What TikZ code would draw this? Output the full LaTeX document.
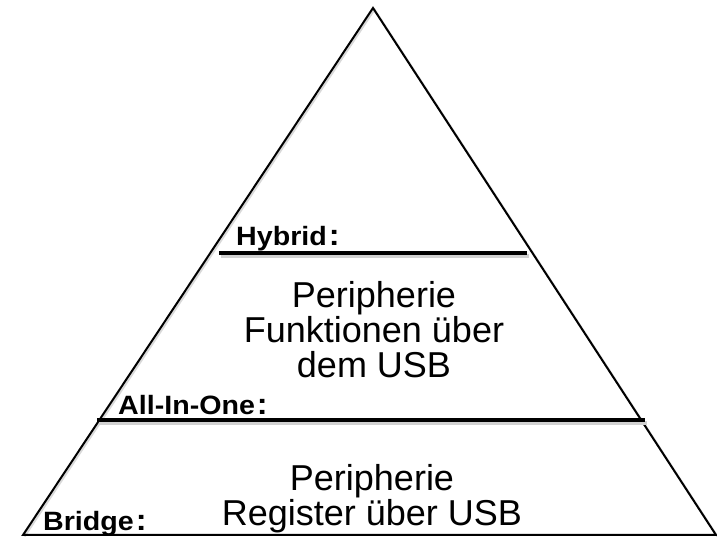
\documentclass[tikz,border=0pt]{standalone}
\usepackage{fontspec}
\setmainfont{Liberation Sans}
\newfontfamily\labelfont[FakeStretch=1.08]{Liberation Sans}
\newcommand{\bigcolon}{\hspace{2pt}{\fontsize{30}{30}\selectfont\bfseries :}}
\tikzset{
  side/.style={line width=2pt, line join=miter},
  tier/.style={line width=3.5pt},
  shadowline/.style={line width=3.5pt, black!18},
  lbl/.style={anchor=base west, inner sep=0pt, font=\labelfont\bfseries\fontsize{26.5}{26.5}\selectfont},
  maintext/.style={anchor=base, inner sep=0pt, align=center, font=\fontsize{36}{35}\selectfont},
}
\begin{document}
\begin{tikzpicture}[x=1pt,y=1pt]
\useasboundingbox (0,0) rectangle (717,537);
\fill[white] (0,0) rectangle (717,537);
% triangle
\coordinate (apex) at (373,529);
\coordinate (bl) at (23,2);
\coordinate (br) at (716,2);
\draw[black!15, line width=2pt] ([shift={(1.5,-1.5)}]bl) -- ([shift={(1.5,-1.5)}]apex) -- ([shift={(1.5,-1.5)}]br);
\draw[side] (bl) -- (apex) -- (br) -- cycle;
% tier lines
\coordinate (h1) at (219,284);
\coordinate (h2) at (527,284);
\coordinate (a1) at (97,117);
\coordinate (a2) at (645,117);
\draw[shadowline] ([shift={(1.5,-3)}]h1) -- ([shift={(1.5,-3)}]h2);
\draw[shadowline] ([shift={(1.5,-3)}]a1) -- ([shift={(1.5,-3)}]a2);
\draw[tier] (h1) -- (h2);
\draw[tier] (a1) -- (a2);
% labels
\node[lbl] (hyb) at (236,291) {Hybrid\bigcolon};
\node[lbl] (aio) at (118,122) {All-In-One\bigcolon};
\node[lbl] (brg) at (43,6) {Bridge\bigcolon};
% tier texts
\node[maintext] (mid) at (374,159) {Peripherie\\Funktionen über\\dem USB};
\node[maintext] (bot) at (372,11) {Peripherie\\Register über USB};
\end{tikzpicture}
\end{document}
